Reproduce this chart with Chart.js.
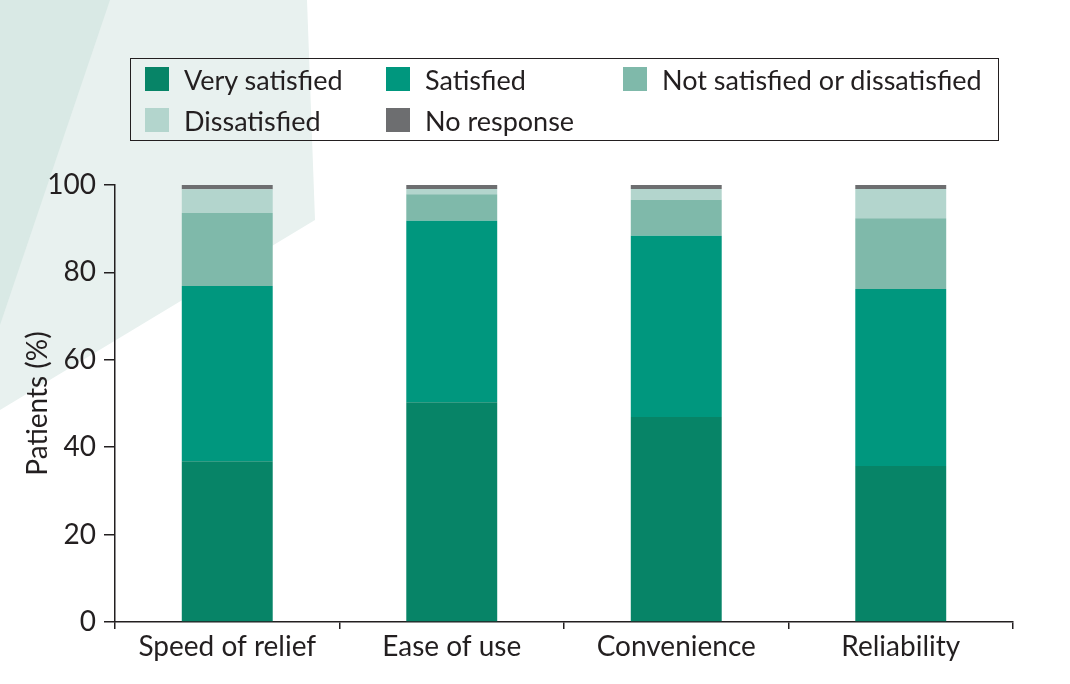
<!DOCTYPE html>
<html>
<head>
<meta charset="utf-8">
<script src="https://cdn.jsdelivr.net/npm/chart.js@4"></script>
<style>
  html, body { margin: 0; padding: 0; background: #ffffff; }
  #wrap { position: relative; width: 1070px; height: 684px; }
  #bg { position: absolute; left: 0; top: 0; }
  #c { position: absolute; left: 0; top: 0; }
  #legend {
    position: absolute; left: 130px; top: 58px; width: 869px; height: 83px;
    border: 1.6px solid #231f20; background: transparent; box-sizing: border-box;
    font-family: Lato, "Open Sans", sans-serif; font-size: 27px; color: #231f20;
  }
  .li { position: absolute; display: flex; align-items: center; height: 30px; white-space: nowrap; }
  .sw { width: 24px; height: 24px; margin-right: 15px; }
</style>
</head>
<body>
<div id="wrap">
  <canvas id="bg" width="1070" height="684"></canvas>
  <canvas id="c" width="1070" height="684"></canvas>
  <div id="legend"></div>
</div>
<script>
const categories = ["Speed of relief", "Ease of use", "Convenience", "Reliability"];
const seriesNames = ["Very satisfied", "Satisfied", "Not satisfied or dissatisfied", "Dissatisfied", "No response"];
const verySatisfied = [36.8, 50.3, 46.9, 35.7];
const satisfied = [40.1, 41.5, 41.5, 40.5];
const neutral = [16.7, 6.1, 8.2, 16.2];
const dissatisfied = [5.4, 1.2, 2.5, 6.7];
const noResponse = [1.0, 0.9, 0.9, 0.9];
const yTicks = [0, 20, 40, 60, 80, 100];
const colors = ["#078467", "#00977e", "#7fb9aa", "#b3d5cd", "#6d6e70"];

// background decoration
(function () {
  const b = document.getElementById('bg').getContext('2d');
  b.fillStyle = '#e8f1ef';
  b.beginPath(); b.moveTo(0, 0); b.lineTo(307, 0); b.lineTo(315, 220); b.lineTo(0, 410); b.closePath(); b.fill();
  b.fillStyle = '#d9e9e5';
  b.beginPath(); b.moveTo(0, 0); b.lineTo(110, 0); b.lineTo(0, 325); b.closePath(); b.fill();
})();

const seriesValues = [verySatisfied, satisfied, neutral, dissatisfied, noResponse];
const datasets = seriesNames.map((n, i) => ({
  label: n,
  data: seriesValues[i],
  backgroundColor: colors[i],
  borderWidth: 0,
  barPercentage: 0.405,
  categoryPercentage: 1.0
}));

const FONT = "Lato, 'Open Sans', sans-serif";
const ink = '#231f20';

const chart = new Chart(document.getElementById('c'), {
  type: 'bar',
  data: { labels: categories, datasets: datasets },
  options: {
    responsive: false,
    animation: false,
    devicePixelRatio: 1,
    layout: { padding: { top: 185, right: 57, left: 0, bottom: 0 } },
    plugins: { legend: { display: false }, tooltip: { enabled: false } },
    scales: {
      x: {
        stacked: true,
        afterFit: s => { s.height = 62; },
        grid: { display: true, offset: true, drawOnChartArea: false, drawTicks: true, tickLength: 7, color: ink, lineWidth: 1.5 },
        border: { display: true, color: ink, width: 1.5 },
        ticks: { color: ink, font: { family: FONT, size: 28 }, padding: 1 }
      },
      y: {
        stacked: true,
        min: 0, max: 100,
        afterFit: s => { s.width = 115; },
        afterBuildTicks: s => { s.ticks = yTicks.map(v => ({ value: v })); },
        grid: { display: true, drawOnChartArea: false, drawTicks: true, tickLength: 11, color: ink, lineWidth: 1.5 },
        border: { display: true, color: ink, width: 1.5 },
        ticks: { color: ink, font: { family: FONT, size: 28 }, padding: 8 },
        title: { display: true, text: 'Patients (%)', color: ink, font: { family: FONT, size: 28 }, padding: { top: 21, bottom: 0 } }
      }
    }
  }
});

// HTML legend built from datasets
const pos = [[14, 5], [255, 5], [492, 5], [14, 46], [255, 46]];
const lg = document.getElementById('legend');
chart.data.datasets.forEach((d, i) => {
  const it = document.createElement('div');
  it.className = 'li';
  it.style.left = pos[i][0] + 'px';
  it.style.top = pos[i][1] + 'px';
  const sw = document.createElement('span');
  sw.className = 'sw';
  sw.style.background = d.backgroundColor;
  const tx = document.createElement('span');
  tx.textContent = d.label;
  it.appendChild(sw); it.appendChild(tx);
  lg.appendChild(it);
});
</script>
</body>
</html>
